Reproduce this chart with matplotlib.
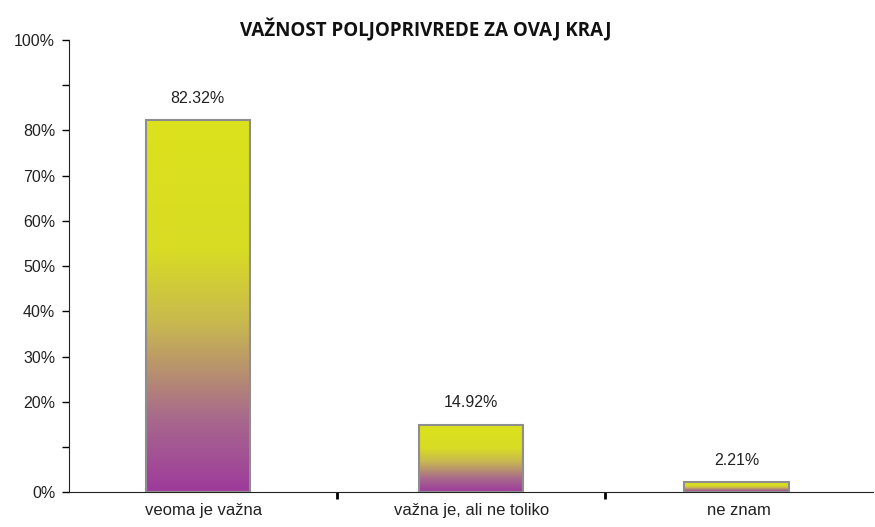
import matplotlib.pyplot as plt
import numpy as np
from matplotlib.colors import LinearSegmentedColormap
from matplotlib.ticker import FixedLocator

categories = ['veoma je važna', 'važna je, ali ne toliko', 'ne znam']
values = [82.32, 14.92, 2.21]
value_labels = ['82.32%', '14.92%', '2.21%']
ytick_vals = [0, 10, 20, 30, 40, 50, 60, 70, 80, 90, 100]
ytick_labels = ['0%', '', '20%', '30%', '40%', '50%', '60%', '70%', '80%', '', '100%']

plt.rcParams['font.family'] = ['Liberation Sans', 'DejaVu Sans']

fig = plt.figure(figsize=(8.75, 5.27), dpi=100)
ax = fig.add_axes([0.079, 0.066, 0.919, 0.858])

# purple at the bottom of each bar, yellow from about half way up
cmap = LinearSegmentedColormap.from_list(
    'bar', [(0.0, '#9e3a9c'), (0.2, '#a86a8c'), (0.45, '#c8b850'),
            (0.65, '#d8dc24'), (1.0, '#dce21c')])
grad = np.linspace(0, 1, 256).reshape(-1, 1)

bar_w = 0.39
x = np.arange(len(categories))
offsets = [-0.02, 0.0, -0.01]
for i, v in enumerate(values):
    cx = x[i] + offsets[i]
    ax.imshow(grad, cmap=cmap, origin='lower', aspect='auto',
              extent=(cx - bar_w / 2, cx + bar_w / 2, 0, v), zorder=2)
    ax.add_patch(plt.Rectangle((cx - bar_w / 2, 0), bar_w, v, fill=False,
                               edgecolor='#8e8e8e', linewidth=1.5, zorder=3))
    ax.text(cx, v + 3.2, value_labels[i], ha='center', va='bottom',
            fontsize=11.5, color='#222222')

ax.set_xlim(-0.5, 2.5)
ax.set_ylim(0, 100)

ax.yaxis.set_major_locator(FixedLocator(ytick_vals))
ax.set_yticklabels(ytick_labels, fontsize=11.5, color='#222222')
ax.set_xticks([0.5, 1.5])
ax.set_xticklabels([])
ax.set_xticks(x, minor=True)
ax.set_xticklabels(categories, minor=True, fontsize=12, color='#222222')
ax.tick_params(axis='x', which='minor', length=0, pad=8)
ax.tick_params(axis='x', which='major', length=5, width=2, direction='out')
ax.tick_params(axis='y', length=5, width=1, direction='out', pad=5)

for s in ['top', 'right']:
    ax.spines[s].set_visible(False)
ax.spines['left'].set_color('#222222')
ax.spines['bottom'].set_color('#222222')

fig.text(0.487, 0.943, 'VAŽNOST POLJOPRIVREDE ZA OVAJ KRAJ', ha='center',
         va='center', fontsize=13.5, fontweight='bold', family=['Open Sans', 'DejaVu Sans'],
         color='#111111')

fig.savefig('out.png', dpi=100)
